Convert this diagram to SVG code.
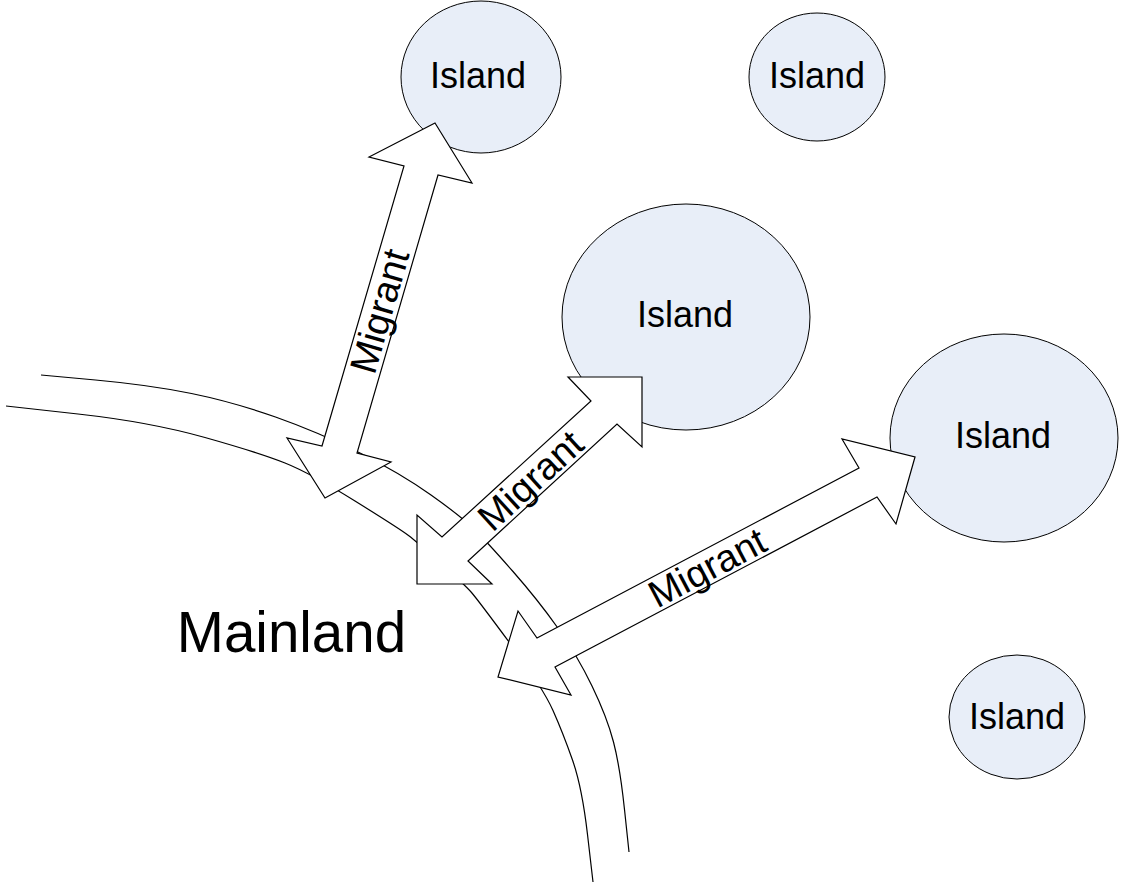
<svg xmlns="http://www.w3.org/2000/svg" width="1124" height="889" viewBox="0 0 1124 889">
<style>
.island{fill:#e8eef8;stroke:#000;stroke-width:1}
.coast{fill:none;stroke:#000;stroke-width:1.2}
.arrow{fill:#fff;stroke:#000;stroke-width:1.2;stroke-linejoin:miter}
.lbl{font-family:"Liberation Sans",Arial,sans-serif;fill:#000}
.il{font-size:36px;text-anchor:middle}
.mg{font-size:38px;text-anchor:middle}
.ml{font-size:56.5px;text-anchor:middle}
</style>
<rect width="1124" height="889" fill="#fff"/>
<g id="island1"><ellipse class="island" cx="481" cy="77" rx="80" ry="76"/><text class="lbl il" x="478" y="88">Island</text></g>
<g id="island2"><ellipse class="island" cx="817" cy="77" rx="68" ry="64"/><text class="lbl il" x="817" y="88">Island</text></g>
<g id="island3"><ellipse class="island" cx="686" cy="317" rx="124" ry="113"/><text class="lbl il" x="685" y="327">Island</text></g>
<g id="island4"><ellipse class="island" cx="1004" cy="438" rx="114" ry="104"/><text class="lbl il" x="1003" y="448">Island</text></g>
<g id="island5"><ellipse class="island" cx="1017" cy="717" rx="68" ry="62"/><text class="lbl il" x="1017" y="729">Island</text></g>
<g id="mainland">
<path class="coast" d="M41,375 L95.5,380 Q150,385 191.5,393.5 Q233,402 275.5,417 Q318,432 359,452.5 Q400,473 431,495 Q462,517 475,530 Q488,543 513,571.5 Q538,600 557.5,627.5 Q577,655 592,686 Q607,717 613.5,742 Q620,767 624.5,809.5 L629,852"/>
<path class="coast" d="M6,406 L78,414 Q150,422 205,437.5 Q260,453 285,463 Q310,473 355,501 Q400,529 408.5,535.5 Q417,542 441,563.5 Q465,585 471.5,592.5 Q478,600 510.5,644 Q543,688 553,710.5 Q563,733 572.5,760 Q582,787 587.5,834.5 L593,882"/>
<text class="lbl ml" x="291.5" y="652">Mainland</text>
</g>
<g id="connectors">
<polygon class="arrow" points="435,123 472,183 438,175 357,453 391,462 325,498 287,438 322,446 404,166 369,157"/>
<polygon class="arrow" points="642,377 642,447 617,424 468,561 492,584 417,584 417,515 442,537 591,401 568,377"/>
<polygon class="arrow" points="915,457 896,524 877,497 555,667 571,695 498,677 518,611 537,638 859,468 842,439"/>
<text class="lbl mg" transform="translate(379,311) rotate(-73.8)" x="0" y="0" dy="0.36em">Migrant</text>
<text class="lbl mg" transform="translate(530,480) rotate(-42.5)" x="0" y="0" dy="0.36em">Migrant</text>
<text class="lbl mg" transform="translate(707,567) rotate(-27.8)" x="0" y="0" dy="0.36em">Migrant</text>
</g>
</svg>
